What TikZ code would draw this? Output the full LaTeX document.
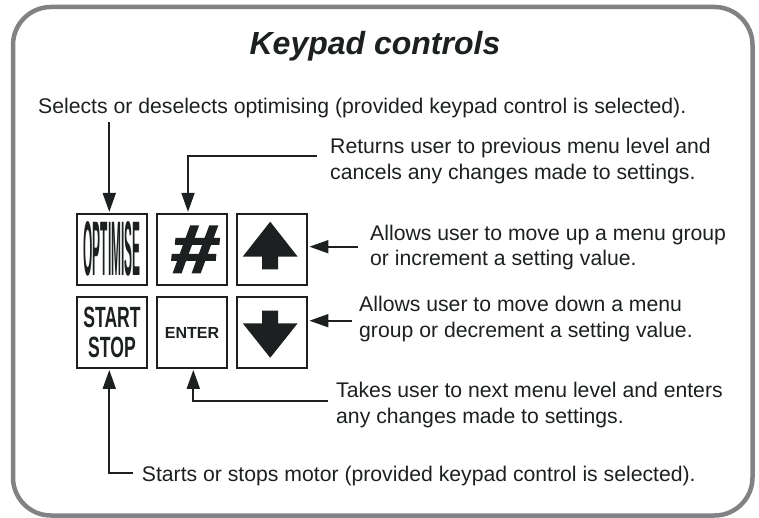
\documentclass[tikz,border=0pt]{standalone}
\usepackage{fontspec}
\usepackage{graphicx}
\setmainfont{Liberation Sans}
\newfontfamily\hashfont[FakeBold=3,FakeSlant=0.08]{Liberation Sans Bold Italic}
\usetikzlibrary{arrows.meta,calc}
\definecolor{ink}{RGB}{28,32,32}
\definecolor{framegray}{RGB}{130,130,132}
\begin{document}
\begin{tikzpicture}[x=1pt,y=-1pt,
  key/.style={draw=ink,line width=2pt,minimum size=70.8pt,inner sep=0pt,text=ink},
  lbl/.style={anchor=north west,inner sep=0pt,align=left,text=ink,font=\fontsize{21.2}{25.8}\selectfont},
  arr/.style={draw=ink,line width=1.8pt,-{Triangle[width=13pt,length=19pt]},shorten >=1pt},
  glyph/.style={fill=ink}]
\useasboundingbox (0,0) rectangle (759,518);
\draw[draw=framegray, line width=4.5pt, rounded corners=38pt] (13,7) rectangle (752.5,515.5);
\node[anchor=base,text=ink,inner sep=0pt,font=\fontsize{32}{32}\selectfont\bfseries\itshape] (title) at (375,55) {Keypad controls};

% keys
\node[key] (opt) at (112,249.3) {\resizebox{57pt}{54pt}{\bfseries OPTIMISE}};
\node[key] (hash) at (192,249.3) {\resizebox{47pt}{46pt}{\hashfont\#}};
\node[key] (up) at (272,249.3) {};
\node[key,align=center,font=\fontsize{29.3}{30.6}\selectfont\bfseries] (start) at (112,332.5) {\scalebox{0.6}[1]{START}\\\scalebox{0.6}[1]{STOP}};
\node[key,font=\fontsize{16}{16}\selectfont\bfseries] (ent) at (192,332.5) {ENTER};
\node[key] (dn) at (272,332.5) {};

% arrow glyphs in keys
\fill[glyph,shift={(up.center)}] (-1.8,-27.6) -- (25.7,7.4) -- (6.2,7.4) -- (6.2,20) -- (-9.8,20) -- (-9.8,7.4) -- (-29.3,7.4) -- cycle;
\fill[glyph,shift={(dn.center)}] (-1.8,25.2) -- (25.7,-9.2) -- (6.2,-9.2) -- (6.2,-21.8) -- (-9.8,-21.8) -- (-9.8,-9.2) -- (-29.3,-9.2) -- cycle;

% labels
\node[lbl] (sel) at (38,98) {Selects or deselects optimising (provided keypad control is selected).};
\node[lbl] (ret) at (330,138.2) {Returns user to previous menu level and\\cancels any changes made to settings.};
\node[lbl] (uptxt) at (370,224.5) {Allows user to move up a menu group\\or increment a setting value.};
\node[lbl] (dntxt) at (359,296) {Allows user to move down a menu\\group or decrement a setting value.};
\node[lbl] (enttxt) at (336,382.3) {Takes user to next menu level and enters\\any changes made to settings.};
\node[lbl] (sttxt) at (141.7,465.5) {Starts or stops motor (provided keypad control is selected).};

% connectors
\coordinate (selA) at (109.3,121.7);
\draw[arr] (selA) -- (selA |- opt.north);
\coordinate (retA) at (316.7,156);
\draw[arr] (retA) -| ($(hash.north)+(-4,0)$);
\coordinate (upA) at (358,246.7);
\draw[arr] (upA) -- (upA -| up.east);
\coordinate (dnA) at (352,320.7);
\draw[arr] (dnA) -- (dnA -| dn.east);
\coordinate (entA) at (328,401);
\draw[arr] (entA) -| ($(ent.south)+(1.3,0)$);
\coordinate (stA) at (133,472.7);
\draw[arr] (stA) -| ($(start.south)+(-2.7,0)$);
\end{tikzpicture}
\end{document}
